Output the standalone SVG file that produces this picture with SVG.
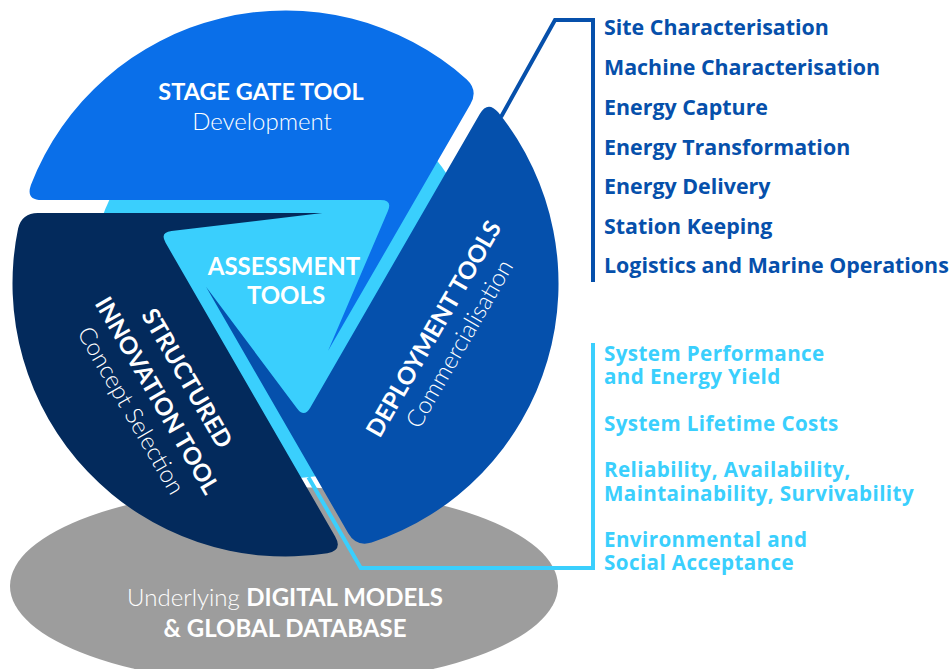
<svg xmlns="http://www.w3.org/2000/svg" xmlns:xlink="http://www.w3.org/1999/xlink" width="952" height="669" viewBox="0 0 952 669">
<style>
.title{font-family:Lato,"Liberation Sans",sans-serif;font-weight:700;font-size:24px;fill:#fff}
.sub{font-family:Lato,"Liberation Sans",sans-serif;font-weight:300;font-size:24px;fill:#fff}
.dk{font-family:"Open Sans","Liberation Sans",sans-serif;font-weight:700;font-size:21.4px;fill:#0650ab}
.cy{font-family:"Open Sans","Liberation Sans",sans-serif;font-weight:700;font-size:20.6px;letter-spacing:0.4px;fill:#3acffd}
.conn{fill:none;stroke-width:4;stroke-linejoin:miter}
</style>
<defs>
<path id="blade" d="M -243.9,-83.5 Q -259.9,-83.5 -254.6,-98.6 A 273 273 0 0 1 181.3,-204.1 Q 192.9,-193.1 184.9,-179.2 L 42.6,67.2 L 102.4,-72.5 Q 107.2,-83.5 95.2,-83.5 Z"/>
</defs>
<g id="database">
<ellipse cx="284" cy="586" rx="274" ry="99" fill="#9d9d9d"/>
<text x="285" y="606" text-anchor="middle" class="title"><tspan class="sub">Underlying </tspan>DIGITAL MODELS</text>
<text x="285" y="637" text-anchor="middle" class="title">&amp; GLOBAL DATABASE</text>
</g>
<g id="assessment">
<circle cx="285.5" cy="283.5" r="195" fill="#3acffd"/>
<text x="284" y="275" text-anchor="middle" class="title">ASSESSMENT</text>
<text x="286" y="304" text-anchor="middle" class="title">TOOLS</text>
</g>
<g id="connectors">
<path class="conn" stroke="#3acffd" d="M 308.4,477.2 L 360.8,568 L 593,568 L 593,343"/>
<path class="conn" stroke="#0650ab" d="M 501,117 L 555,20 L 593,20 L 593,282"/>
</g>
<g id="stage-gate">
<use xlink:href="#blade" href="#blade" transform="translate(285.5,283.5)" fill="#0a6fe9"/>
<text x="261" y="100" text-anchor="middle" class="title" style="font-size:23.5px">STAGE GATE TOOL</text>
<text x="262" y="130" text-anchor="middle" class="sub">Development</text>
</g>
<g id="deployment">
<use xlink:href="#blade" href="#blade" transform="translate(285.5,283.5) rotate(120)" fill="#0550ac"/>
<g transform="rotate(-60)">
<text x="-68" y="548.5" text-anchor="middle" class="title">DEPLOYMENT TOOLS</text>
<text x="-68" y="578" text-anchor="middle" class="sub">Commercialisation</text>
</g>
</g>
<g id="structured-innovation">
<use xlink:href="#blade" href="#blade" transform="translate(285.5,283.5) rotate(240)" fill="#032a5c"/>
<g transform="rotate(60)">
<text x="421" y="35.5" text-anchor="middle" class="title">STRUCTURED</text>
<text x="421" y="70" text-anchor="middle" class="title">INNOVATION TOOL</text>
<text x="421" y="100" text-anchor="middle" class="sub">Concept Selection</text>
</g>
</g>
<g id="design-areas">
<text x="604" y="35" class="dk">Site Characterisation</text>
<text x="604" y="75" class="dk">Machine Characterisation</text>
<text x="604" y="115" class="dk">Energy Capture</text>
<text x="604" y="155" class="dk">Energy Transformation</text>
<text x="604" y="194" class="dk">Energy Delivery</text>
<text x="604" y="233.5" class="dk">Station Keeping</text>
<text x="604" y="273" class="dk">Logistics and Marine Operations</text>
</g>
<g id="assessment-areas">
<text x="604" y="361" class="cy">System Performance</text>
<text x="604" y="384" class="cy">and Energy Yield</text>
<text x="604" y="431" class="cy">System Lifetime Costs</text>
<text x="604" y="477" class="cy">Reliability, Availability,</text>
<text x="604" y="501" class="cy">Maintainability, Survivability</text>
<text x="604" y="547" class="cy">Environmental and</text>
<text x="604" y="570" class="cy">Social Acceptance</text>
</g>
</svg>
